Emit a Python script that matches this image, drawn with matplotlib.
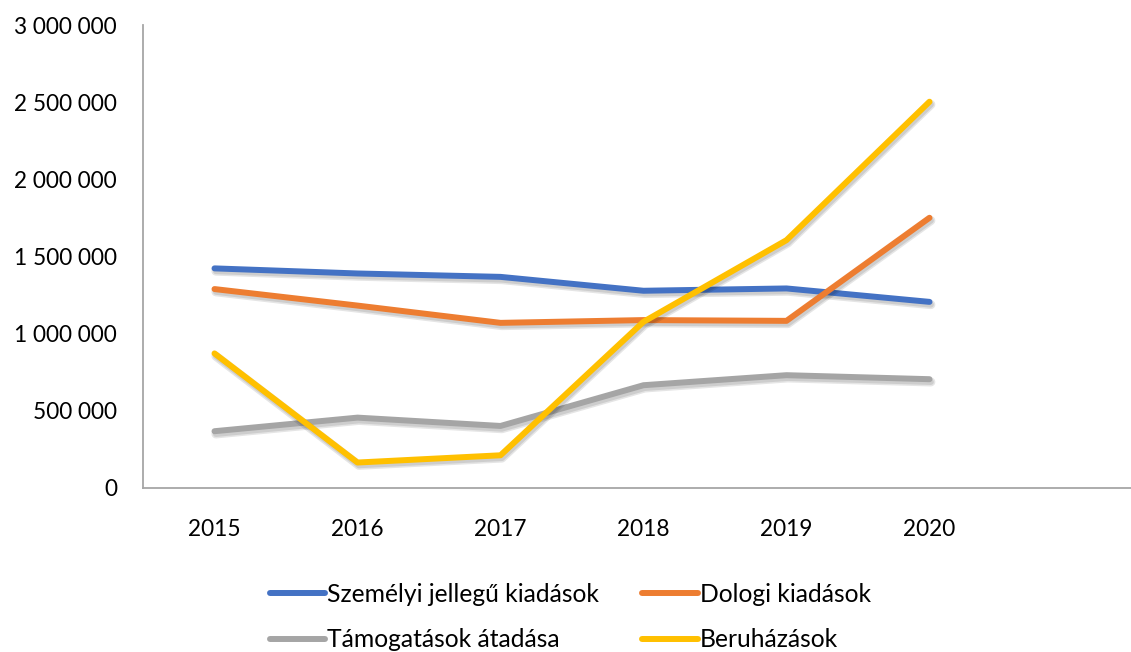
import matplotlib
matplotlib.use("Agg")
import matplotlib.pyplot as plt
import matplotlib.patheffects as pe
from matplotlib.ticker import FuncFormatter, MultipleLocator

years = ["2015", "2016", "2017", "2018", "2019", "2020"]
szemelyi = [1423000, 1390000, 1368000, 1278000, 1293000, 1206000]
dologi = [1289000, 1182000, 1070000, 1088000, 1083000, 1751000]
tamogatasok = [368000, 456000, 402000, 666000, 731000, 705000]
beruhazasok = [872000, 165000, 212000, 1077000, 1606000, 2503000]

series_names = ["Személyi jellegű kiadások", "Dologi kiadások",
                "Támogatások átadása", "Beruházások"]
series_values = [szemelyi, dologi, tamogatasok, beruhazasok]
colors = ["#4472C4", "#ED7D31", "#A5A5A5", "#FFC000"]

plt.rcParams['font.family'] = ['Lato', 'DejaVu Sans']

W, H = 1131, 652
fig = plt.figure(figsize=(W / 100, H / 100), dpi=100)
ax = fig.add_axes([143 / W, (H - 488) / H, (W - 143) / W, (488 - 25) / H])

x = list(range(len(years)))
shadow = [pe.SimpleLineShadow(offset=(1.0, -2.0), shadow_color='#000000', alpha=0.10, linewidth=6.5),
          pe.SimpleLineShadow(offset=(1.0, -2.0), shadow_color='#000000', alpha=0.10),
          pe.Normal()]
for name, vals, c in zip(series_names, series_values, colors):
    ax.plot(x, vals, color=c, lw=4.3, solid_capstyle='round',
            solid_joinstyle='round', label=name, path_effects=shadow)

ax.set_xlim(-0.5, (W - 143) / 143 - 0.5)
ax.set_ylim(0, 3000000)
ax.yaxis.set_major_locator(MultipleLocator(500000))
ax.yaxis.set_major_formatter(FuncFormatter(lambda v, p: f"{int(v):,}".replace(",", " ")))
ax.set_xticks(x)
ax.set_xticklabels(years)
ax.tick_params(axis='both', length=0, labelsize=16.3, colors='black')
ax.tick_params(axis='y', pad=18.7)
ax.tick_params(axis='x', pad=22)
for s in ['top', 'right']:
    ax.spines[s].set_visible(False)
for s in ['left', 'bottom']:
    ax.spines[s].set_color('#A6A6A6')
    ax.spines[s].set_linewidth(1.3)

# legend: rows are (Személyi, Dologi) / (Támogatások, Beruházások); ncol fills column-wise
order = [0, 2, 1, 3]
leg_handles = [plt.Line2D([0], [0], color=colors[i], lw=4.3, solid_capstyle='round') for i in order]
leg_labels = [series_names[i] for i in order]
fig.legend(leg_handles, leg_labels, loc='upper left', ncol=2,
           bbox_to_anchor=(270 / W, 1 - 583 / H), frameon=False, fontsize=17.7,
           handlelength=2.25, handletextpad=0.08, columnspacing=1.75,
           labelspacing=0.9, borderaxespad=0, borderpad=0)

fig.savefig("out.png", dpi=100, facecolor='white')
